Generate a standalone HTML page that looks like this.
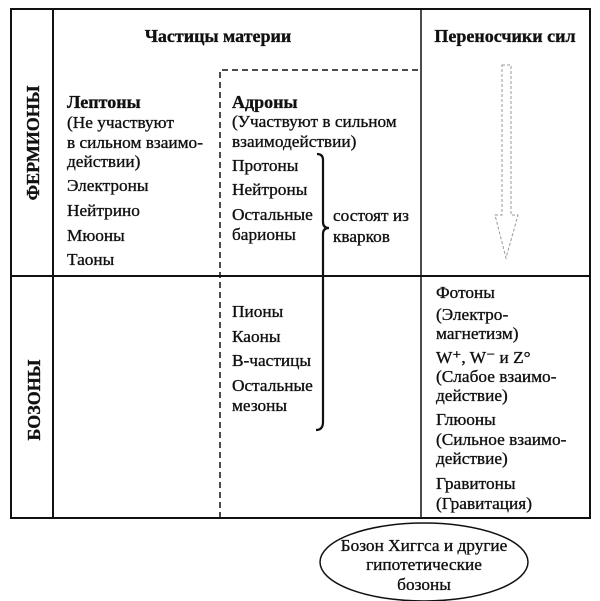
<!DOCTYPE html>
<html><head><meta charset="utf-8"><style>
html,body{margin:0;padding:0;background:#fff}
svg{display:block}
text{font-family:"Liberation Serif","DejaVu Serif",serif;font-size:17.3px;fill:#111;stroke:#111;stroke-width:0.35}
.b{font-weight:bold;font-size:18px}
</style></head><body>
<svg width="600" height="601" viewBox="0 0 600 601" xmlns="http://www.w3.org/2000/svg">
<rect x="11" y="9" width="579" height="509" fill="none" stroke="#111" stroke-width="2"/>
<line x1="53" y1="9" x2="53" y2="518" stroke="#111" stroke-width="2"/>
<line x1="421" y1="9" x2="421" y2="518" stroke="#111" stroke-width="1.5"/>
<line x1="11" y1="276" x2="590" y2="276" stroke="#111" stroke-width="2"/>
<path d="M220 518 V70 H421" fill="none" stroke="#111" stroke-width="1.5" stroke-dasharray="6,4"/>
<path d="M502 65 H511 V215 H518 L506 258 L495 215 H502 Z" fill="none" stroke="#999" stroke-width="1" stroke-dasharray="3,2"/>
<path d="M317 154 Q323 154 323 160 V222 Q323 228 329 228 Q323 228 323 234 V422 Q323 430 316 430" fill="none" stroke="#111" stroke-width="2.2"/>
<text class="b" x="218" y="42" text-anchor="middle">Частицы материи</text>
<text class="b" x="505" y="42" text-anchor="middle">Переносчики сил</text>
<text class="b" transform="translate(39,143) rotate(-90)" text-anchor="middle" font-size="16">ФЕРМИОНЫ</text>
<text class="b" transform="translate(40,400) rotate(-90)" text-anchor="middle" font-size="19">БОЗОНЫ</text>
<g>
<text class="b" x="67" y="108">Лептоны</text>
<text x="67" y="128">(Не участвуют</text>
<text x="67" y="148">в сильном взаимо-</text>
<text x="67" y="167">действии)</text>
<text x="67" y="191">Электроны</text>
<text x="67" y="216">Нейтрино</text>
<text x="67" y="241">Мюоны</text>
<text x="67" y="265">Таоны</text>
</g>
<g>
<text class="b" x="232" y="108">Адроны</text>
<text x="232" y="127">(Участвуют в сильном</text>
<text x="232" y="147">взаимодействии)</text>
<text x="232" y="171">Протоны</text>
<text x="232" y="195">Нейтроны</text>
<text x="232" y="220">Остальные</text>
<text x="232" y="240">барионы</text>
<text x="333" y="221">состоят из</text>
<text x="333" y="242">кварков</text>
<text x="232" y="317">Пионы</text>
<text x="232" y="342">Каоны</text>
<text x="232" y="366">В-частицы</text>
<text x="232" y="391">Остальные</text>
<text x="232" y="411">мезоны</text>
</g>
<g>
<text x="436" y="298">Фотоны</text>
<text x="436" y="320">(Электро-</text>
<text x="436" y="339">магнетизм)</text>
<text x="436" y="363">W⁺, W⁻ и Z°</text>
<text x="436" y="382">(Слабое взаимо-</text>
<text x="436" y="401">действие)</text>
<text x="436" y="425">Глюоны</text>
<text x="436" y="445">(Сильное взаимо-</text>
<text x="436" y="464">действие)</text>
<text x="436" y="489">Гравитоны</text>
<text x="436" y="509">(Гравитация)</text>
</g>
<ellipse cx="424" cy="562" rx="104" ry="39" fill="#fff" stroke="#111" stroke-width="1.5"/>
<text x="424" y="551" text-anchor="middle">Бозон Хиггса и другие</text>
<text x="424" y="570" text-anchor="middle">гипотетические</text>
<text x="424" y="590" text-anchor="middle">бозоны</text>
</svg>
</body></html>
